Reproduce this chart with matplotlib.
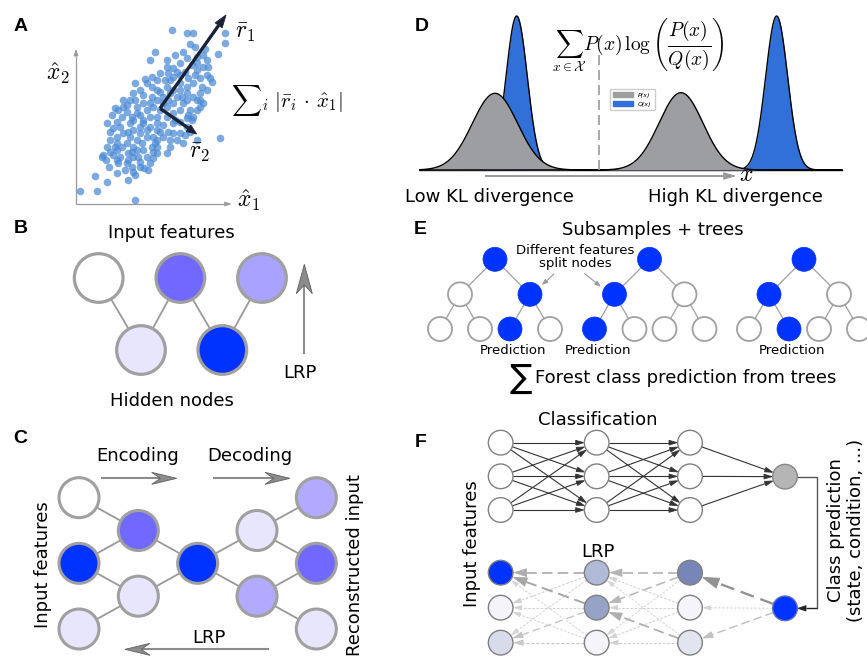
import numpy as np
import matplotlib.pyplot as plt
from matplotlib.patches import Circle, Polygon, Patch

plt.rcParams['font.family'] = ['DejaVu Sans']
plt.rcParams['mathtext.fontset'] = 'cm'

# ---------------- data ----------------
# A: scatter points (panel units, y pointing down)
scatter_xy = [(517, 90), (560, 100), (580, 100), (675, 100), (675, 128), (570, 133), (585, 140), (615, 148),
              (655, 163), (465, 155), (450, 180), (500, 180), (525, 165), (548, 157), (610, 200), (630, 235),
              (635, 245), (405, 248), (435, 237), (455, 232), (660, 415), (548, 430), (590, 420), (240, 573),
              (292, 573), (322, 545), (285, 527), (405, 600), (383, 540), (350, 518), (405, 525), (432, 505),
              (445, 510), (310, 465), (318, 480), (328, 500), (355, 490), (380, 488), (395, 500), (340, 465),
              (345, 440), (352, 430), (385, 460), (398, 470), (420, 485), (460, 475), (460, 455), (320, 370),
              (340, 385), (350, 365), (365, 350), (380, 335), (380, 315), (405, 300), (410, 320), (430, 285),
              (455, 290), (470, 300), (480, 275), (500, 260), (510, 240), (520, 230), (540, 225), (555, 215),
              (575, 195), (590, 210), (600, 235), (605, 260), (560, 260), (545, 290), (550, 310), (570, 330),
              (575, 360), (540, 365), (520, 370), (505, 395), (490, 410), (470, 420), (455, 440), (440, 410),
              (420, 400), (400, 390), (385, 395), (390, 410), (410, 420), (425, 430), (470, 440), (490, 375),
              (470, 390), (450, 380), (430, 360), (420, 345), (440, 330), (460, 320), (480, 330), (500, 320),
              (520, 310), (530, 290), (540, 270), (560, 280), (580, 290), (600, 300), (520, 340), (500, 350),
              (470, 350), (450, 350), (430, 370), (400, 360), (390, 370), (360, 380), (370, 400), (350, 410),
              (330, 420), (380, 430), (400, 440), (430, 450), (440, 470), (470, 460), (500, 460), (520, 400),
              (540, 400), (560, 380), (580, 350), (590, 330), (600, 280), (580, 250), (540, 250), (520, 270),
              (490, 290), (500, 200), (520, 205), (540, 190), (560, 175), (590, 170), (610, 165), (620, 180),
              (480, 220), (470, 240), (455, 260), (440, 250), (420, 270), (400, 280), (390, 300), (370, 320),
              (355, 330), (335, 345), (345, 325), (370, 300), (505, 220), (530, 215), (565, 235), (585, 225),
              (495, 240), (470, 270), (510, 280), (560, 300), (540, 330), (505, 300), (490, 310), (450, 310),
              (430, 310), (410, 340), (395, 350), (470, 370), (480, 395), (460, 410), (440, 390), (420, 380),
              (410, 450), (395, 455), (350, 450), (365, 440), (330, 395), (320, 440), (305, 470), (330, 455),
              (360, 470), (415, 470), (385, 480), (350, 480), (375, 510), (400, 515), (420, 500), (450, 490),
              (465, 430), (510, 420), (510, 440), (530, 420), (555, 405), (570, 395), (565, 345), (560, 355),
              (525, 360), (600, 320), (610, 310), (590, 300), (620, 270), (620, 225), (625, 200), (590, 190)]

# D: gaussian bumps (centre, width, height) for P and Q, low KL then high KL
p_centre = [285, 843]
p_width = [68, 66]
p_height = [230, 232]
q_centre = [350, 1130]
q_width = [32, 33]
q_height = [462, 462]

# B / C: relevance colours of nodes
b_input = ['white', '#7068ff', '#a9a2ff']
b_hidden = ['#e8e6fc', '#0033ff']
c_layers = [['white', '#0033ff', '#e8e6fc'],
            ['#7068ff', '#e8e6fc'],
            ['#0033ff'],
            ['#e8e6fc', '#b1aaff'],
            ['#b1aaff', '#7068ff', '#e8e6fc']]

# E: which node is on the decision path (level 2 index, leaf index) per tree
e_mid_blue = [1, 0, 0]
e_leaf_blue = [2, 0, 1]

# F: LRP node colours per layer, edge relevance [from row][to row]
f_lrp_nodes = [['#0033ff', '#f4f4fa', '#d8dcea'],
               ['#b0b9d6', '#97a3c6', '#f4f4fa'],
               ['#7786b6', '#f4f4fa', '#e2e4ef']]
f_w_out = [0.9, 0.1, 0.35]
f_w32 = [[0.5, 0.45, 0.08], [0.12, 0.12, 0.12], [0.08, 0.55, 0.15]]
f_w21 = [[0.55, 0.15, 0.1], [0.65, 0.12, 0.3], [0.08, 0.1, 0.25]]

W, H = 867, 657
fig = plt.figure(figsize=(W / 100, H / 100), dpi=100)
EDGE = '#a0a0a0'
BLUE = '#0033ff'


def panel(x0, y0, w, h):
    ax = fig.add_axes([x0 / W, 1 - (y0 + h) / H, w / W, h / H])
    ax.set_xlim(0, 3 * w)
    ax.set_ylim(3 * h, 0)
    ax.axis('off')
    return ax


def label(ax, x, y, s):
    ax.text(x, y, s, fontsize=14, fontweight='bold', family='Liberation Sans', ha='center', va='center')


def node(ax, x, y, r, fc, ec=EDGE, lw=2.0, z=4):
    ax.add_patch(Circle((x, y), r, fc=fc, ec=ec, lw=lw, zorder=z, clip_on=False))


def arrow(ax, p0, p1, color, lw, L, Wd, notch=0.0, ls='-', s0=0.0, s1=0.0, z=2, ec=None):
    p0 = np.asarray(p0, float)
    p1 = np.asarray(p1, float)
    u = (p1 - p0) / np.hypot(*(p1 - p0))
    n = np.array([-u[1], u[0]])
    a = p0 + s0 * u
    b = p1 - s1 * u
    c = b - L * (1 - notch) * u
    base = b - L * u
    ax.plot([a[0], c[0]], [a[1], c[1]], color=color, lw=lw, ls=ls, zorder=z, solid_capstyle='butt')
    ax.add_patch(Polygon([b, base + Wd * n, c, base - Wd * n], closed=True,
                         fc=color, ec=ec or color, lw=0.6, zorder=z))


# ---------------- A ----------------
axA = panel(0, 0, 400, 210)
label(axA, 62, 80, 'A')
arrow(axA, (228, 612), (228, 150), '#9a9a9a', 0.9, 18, 6)
arrow(axA, (228, 612), (692, 612), '#9a9a9a', 0.9, 18, 6)
xy = np.array(scatter_xy)
axA.scatter(xy[:, 0], xy[:, 1], s=30, color='#4a8ad4', alpha=0.72, lw=0, zorder=2)
arrow(axA, (480, 325), (678, 45), '#1c2236', 2.4, 38, 13, z=3)
arrow(axA, (480, 325), (590, 402), '#1c2236', 2.4, 30, 12, z=3)
axA.text(735, 95, r'$\bar{r}_1$', fontsize=17, ha='center', va='center')
axA.text(600, 455, r'$\bar{r}_2$', fontsize=17, ha='center', va='center')
axA.text(175, 220, r'$\hat{x}_2$', fontsize=17, ha='center', va='center')
axA.text(745, 600, r'$\hat{x}_1$', fontsize=17, ha='center', va='center')
axA.text(860, 300, r'${\sum}_i\ |\bar{r}_i\,\cdot\,\hat{x}_1|$', fontsize=15, ha='center', va='center')

# ---------------- D ----------------
axD = panel(400, 0, 467, 210)
label(axD, 65, 80, 'D')
base = 510
xs = np.linspace(60, 1325, 2000)
axD.plot([60, 1325], [base, base], color='black', lw=1, zorder=1)
for k in range(2):
    q = q_height[k] * np.exp(-0.5 * ((xs - q_centre[k]) / q_width[k]) ** 2)
    p = p_height[k] * np.exp(-0.5 * ((xs - p_centre[k]) / p_width[k]) ** 2)
    axD.fill_between(xs, base, base - q, color='#3070d8', lw=0, zorder=2)
    axD.plot(xs, base - q, color='black', lw=1, zorder=2)
    axD.fill_between(xs, base, base - p, color='#9d9ea1', lw=0, zorder=3)
    axD.plot(xs, base - p, color='black', lw=1, zorder=3)
axD.plot([597, 597], [165, base], color='#999999', lw=1.2, ls=(0, (6, 3)), zorder=4)
arrow(axD, (255, 528), (1005, 528), '#999999', 1.4, 34, 10)
axD.text(1040, 522, r'$x$', fontsize=17, ha='center', va='center')
axD.text(715, 135, r'$\sum_{x\in\mathcal{X}} P(x)\,\log\left(\dfrac{P(x)}{Q(x)}\right)$',
         fontsize=14, ha='center', va='center')
axD.text(268, 592, 'Low KL divergence', fontsize=13, ha='center', va='center')
axD.text(1005, 592, 'High KL divergence', fontsize=13, ha='center', va='center')
axD.legend(handles=[Patch(color='#9d9ea1', label='P(x)'), Patch(color='#3070d8', label='Q(x)')],
           loc='upper left', bbox_to_anchor=(620 / 1401, 1 - 258 / 630),
           prop={'size': 4.5, 'style': 'italic'}, edgecolor='#cccccc', handlelength=3.2,
           handleheight=0.9, borderpad=0.5, framealpha=1)

# ---------------- B ----------------
axB = panel(0, 210, 400, 210)
label(axB, 62, 55, 'B')
top = [(296 + 245 * i, 204) for i in range(3)]
hid = [(423 + 244 * i, 420) for i in range(2)]
for i, j in [(0, 0), (1, 0), (1, 1), (2, 1)]:
    axB.plot([top[i][0], hid[j][0]], [top[i][1], hid[j][1]], color='#999999', lw=1.3, zorder=1)
for (x, y), c in zip(top, b_input):
    node(axB, x, y, 73, c, lw=2.3)
for (x, y), c in zip(hid, b_hidden):
    node(axB, x, y, 73, c, lw=2.3)
axB.text(515, 70, 'Input features', fontsize=13, ha='center', va='center')
axB.text(517, 572, 'Hidden nodes', fontsize=13, ha='center', va='center')
arrow(axB, (913, 432), (913, 163), '#8c8c8c', 1.5, 88, 24, notch=0.3, ec='#606060')
axB.text(900, 488, 'LRP', fontsize=13, ha='center', va='center')

# ---------------- C ----------------
axC = panel(0, 420, 400, 237)
label(axC, 62, 55, 'C')
pos = []
for li, layer in enumerate(c_layers):
    n = len(layer)
    pos.append([(237 + 178 * li, 430 + 197 * (j - (n - 1) / 2)) for j in range(n)])
for li in range(len(pos) - 1):
    for (x0, y0) in pos[li]:
        for (x1, y1) in pos[li + 1]:
            if abs(y1 - y0) < 250:
                axC.plot([x0, x1], [y0, y1], color='#999999', lw=1.3, zorder=1)
for li, layer in enumerate(c_layers):
    for (x, y), c in zip(pos[li], layer):
        node(axC, x, y, 60, c, lw=2.2)
axC.text(413, 108, 'Encoding', fontsize=13, ha='center', va='center')
axC.text(750, 108, 'Decoding', fontsize=13, ha='center', va='center')
arrow(axC, (302, 175), (530, 175), '#8c8c8c', 1.5, 75, 18, notch=0.35, ec='#606060')
arrow(axC, (640, 175), (870, 175), '#8c8c8c', 1.5, 75, 18, notch=0.35, ec='#606060')
arrow(axC, (808, 688), (375, 688), '#8c8c8c', 1.5, 75, 18, notch=0.35, ec='#606060')
axC.text(628, 655, 'LRP', fontsize=13, ha='center', va='center')
axC.text(130, 435, 'Input features', fontsize=13, rotation=90, ha='center', va='center')
axC.text(1065, 435, 'Reconstructed input', fontsize=13, rotation=90, ha='center', va='center')

# ---------------- E ----------------
axE = panel(400, 210, 467, 200)
label(axE, 62, 60, 'E')
axE.text(758, 60, 'Subsamples + trees', fontsize=13, ha='center', va='center')
for t in range(3):
    rx = 285 + 463.5 * t
    mids = [rx - 105, rx + 105]
    leaves = [mids[0] - 60, mids[0] + 60, mids[1] - 60, mids[1] + 60]
    for m in mids:
        axE.plot([rx, m], [148, 253], color=EDGE, lw=0.9, zorder=1)
    for k, lf in enumerate(leaves):
        axE.plot([mids[k // 2], lf], [253, 357], color=EDGE, lw=0.9, zorder=1)
    node(axE, rx, 148, 36, BLUE, ec=BLUE, lw=0.5)
    for k, m in enumerate(mids):
        if k == e_mid_blue[t]:
            node(axE, m, 253, 36, BLUE, ec=BLUE, lw=0.5)
        else:
            node(axE, m, 253, 36, 'white', lw=1.3)
    for k, lf in enumerate(leaves):
        if k == e_leaf_blue[t]:
            node(axE, lf, 357, 36, BLUE, ec=BLUE, lw=0.5)
            axE.text(lf + 9, 420, 'Prediction', fontsize=9.5, ha='center', va='center')
        else:
            node(axE, lf, 357, 36, 'white', lw=1.3)
axE.text(525, 140, 'Different features\nsplit nodes', fontsize=9.5, ha='center', va='center',
         linespacing=1.0, zorder=5)
arrow(axE, (462, 192), (428, 223), '#999999', 0.8, 16, 6)
arrow(axE, (553, 190), (600, 228), '#999999', 0.8, 16, 6)
axE.text(362, 505, '\u2211', fontsize=24, ha='center', va='center')
axE.text(405, 505, 'Forest class prediction from trees', fontsize=13, ha='left', va='center')

# ---------------- F ----------------
axF = panel(400, 400, 467, 257)
label(axF, 62, 128, 'F')
cols = [302, 590, 870]
r = 37
top_rows = [128 + 101 * i for i in range(3)]
out_top = (1155, 230)
for c0, c1 in [(0, 1), (1, 2)]:
    for y0 in top_rows:
        for y1 in top_rows:
            arrow(axF, (cols[c0], y0), (cols[c1], y1), '#333333', 0.8, 24, 7, s0=r, s1=r + 2)
for y0 in top_rows:
    arrow(axF, (cols[2], y0), out_top, '#333333', 0.8, 24, 7, s0=r, s1=r + 2)
for c in cols:
    for y in top_rows:
        node(axF, c, y, r, 'white', ec='#808080', lw=1.0)
node(axF, out_top[0], out_top[1], r, '#b5b5b5', ec='#888888', lw=1.0)

bot_rows = [518 + 105 * i for i in range(3)]
out_bot = (1155, 625)
axF.plot([out_top[0] + r, 1250, 1250], [230, 230, 625], color='#555555', lw=1, zorder=2)
arrow(axF, (1250, 625), (out_bot[0] + r + 2, 625), '#222222', 1, 24, 8)


def lrp_edge(p0, p1, w):
    g = 0.86 - 0.32 * w
    col = (g, g, g)
    ls = (0, (6, 3)) if w >= 0.3 else (0, (2.5, 1.5))
    arrow(axF, p0, p1, col, 0.6 + 1.2 * w, 18 + 34 * w, 5 + 12 * w, ls=ls, s0=r, s1=r + 4, z=2)


for i, y0 in enumerate(bot_rows):
    lrp_edge(out_bot, (cols[2], y0), f_w_out[i])
for i, y0 in enumerate(bot_rows):
    for j, y1 in enumerate(bot_rows):
        lrp_edge((cols[2], y0), (cols[1], y1), f_w32[i][j])
        lrp_edge((cols[1], y0), (cols[0], y1), f_w21[i][j])
for ci, c in enumerate(cols):
    for y, fc in zip(bot_rows, f_lrp_nodes[ci]):
        node(axF, c, y, r, fc, ec='#808080', lw=1.0)
node(axF, out_bot[0], out_bot[1], r, BLUE, ec='#6070c0', lw=1.0)

axF.text(592, 60, 'Classification', fontsize=13, ha='center', va='center')
axF.text(595, 455, 'LRP', fontsize=13, ha='center', va='center')
axF.text(215, 430, 'Input features', fontsize=13, rotation=90, ha='center', va='center')
axF.text(1338, 390, 'Class prediction\n(state, condition, ...)', fontsize=13, rotation=90,
         ha='center', va='center', linespacing=1.15)

fig.savefig('out.png', dpi=100)
